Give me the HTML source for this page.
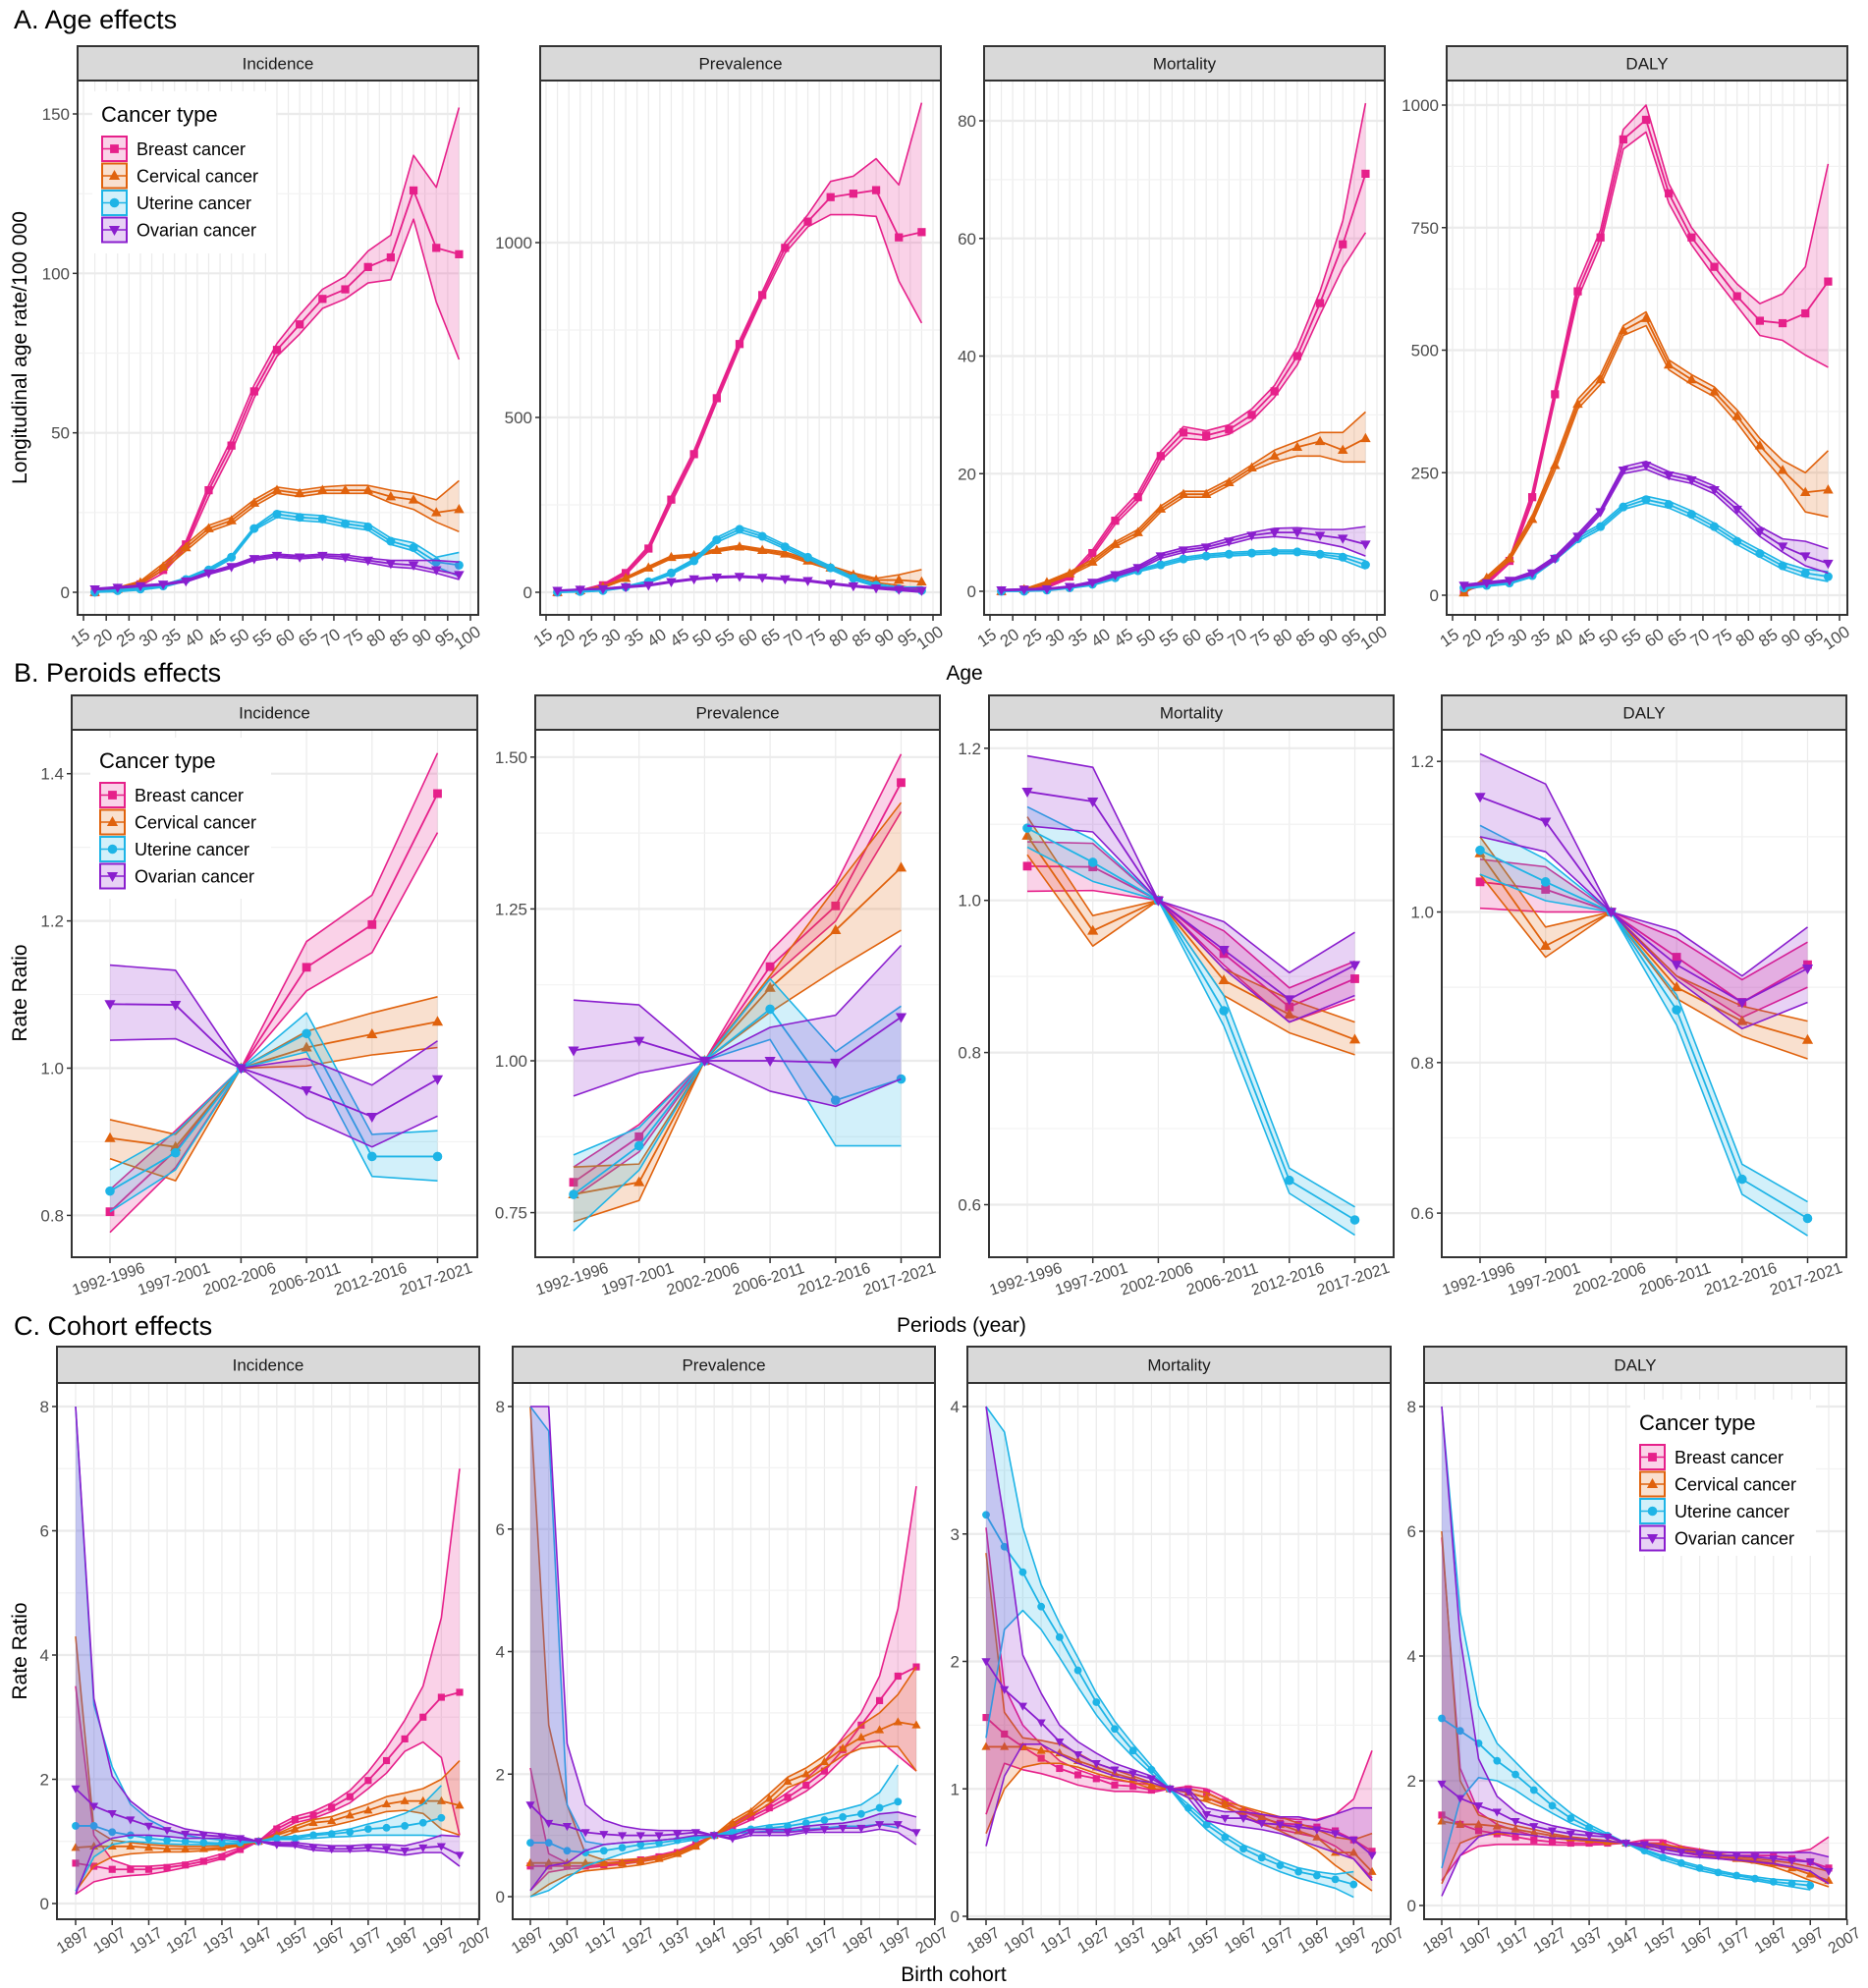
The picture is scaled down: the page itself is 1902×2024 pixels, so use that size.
<!DOCTYPE html>
<html><head><meta charset="utf-8"><style>
html,body{margin:0;padding:0;background:#fff}
svg{display:block;font-family:"Liberation Sans",Arial,sans-serif}
</style></head><body>
<svg id="chart" width="1902" height="2024" viewBox="0 0 1902 2024" xmlns="http://www.w3.org/2000/svg">
<rect x="0" y="0" width="1902" height="2024" fill="#fff"/>
<text x="14" y="29" font-size="27" fill="#000">A. Age effects</text>
<text x="14" y="694" font-size="27" fill="#000">B. Peroids effects</text>
<text x="14" y="1359" font-size="27" fill="#000">C. Cohort effects</text>
<text x="982" y="692" font-size="21" text-anchor="middle">Age</text>
<text x="979" y="1356" font-size="21" text-anchor="middle">Periods (year)</text>
<text x="971" y="2017" font-size="21" text-anchor="middle">Birth cohort</text>
<text transform="translate(27,354) rotate(-90)" font-size="21" text-anchor="middle">Longitudinal age rate/100 000</text>
<text transform="translate(27,1011) rotate(-90)" font-size="21" text-anchor="middle">Rate Ratio</text>
<text transform="translate(27,1681) rotate(-90)" font-size="21" text-anchor="middle">Rate Ratio</text>
</svg>
<script>
// ---------- categories ----------
const ageGroups = [17.5,22.5,27.5,32.5,37.5,42.5,47.5,52.5,57.5,62.5,67.5,72.5,77.5,82.5,87.5,92.5,97.5];
const ageTicks = [15,20,25,30,35,40,45,50,55,60,65,70,75,80,85,90,95,100];
const periods = ["1992-1996","1997-2001","2002-2006","2006-2011","2012-2016","2017-2021"];
const cohorts = [1897,1902,1907,1912,1917,1922,1927,1932,1937,1942,1947,1952,1957,1962,1967,1972,1977,1982,1987,1992,1997,2002];
const cohortTicks = [1897,1907,1917,1927,1937,1947,1957,1967,1977,1987,1997,2007];
const seriesNames = ["Breast cancer","Cervical cancer","Uterine cancer","Ovarian cancer"];

// ---------- A: Age effects ----------
const aIncBreast = {est:[0,1,2.5,7,15,32,46,63,76,84,92,95,102,105,126,108,106], lo:[0,0.5,2,6,14,30,44,61,74,81,89,92,97,98,117,91,73], hi:[0.5,1.5,3,8,16,33.5,48,65,78,87,95,99,107,112,137,127,152]};
const aIncCerv = {est:[0,1,3,8,14,20,22.5,28,32,31,32,32,32,30,29,25,26], lo:[0,0.5,2.5,7,13,19,21.5,27,31,30,31,31,31,28,26,22,19], hi:[0.5,1.5,3.5,9,15,21,23.5,29,33,32,33,33.5,33.5,32,31,29,35]};
const aIncUter = {est:[0,0.5,1,2,4,7,11,20,24.5,23.5,23,21.5,20.5,16,14,9.5,8.5], lo:[0,0.2,0.7,1.6,3.5,6.5,10.5,19.5,23.5,22.5,22,20.5,19.5,15,13,8,5], hi:[0.3,0.8,1.3,2.4,4.5,7.5,11.5,20.5,25.5,24.5,24,22.5,21.5,17,15.5,11,12.5]};
const aIncOvar = {est:[1,1.5,2,2.5,3.5,6,8,10.5,11.5,11,11.5,11,10,9,8.5,7,5.5], lo:[0.8,1.3,1.8,2.3,3.2,5.6,7.6,10,11,10.5,11,10.3,9.3,8,7.5,6,4], hi:[1.2,1.7,2.2,2.7,3.8,6.4,8.4,11,12,11.5,12,11.7,10.7,10,10,10,9.5]};

const aPrevBreast = {est:[0,5,20,55,125,265,395,555,710,850,985,1060,1130,1140,1150,1015,1030], lo:[0,4,17,50,118,255,385,545,700,840,970,1045,1080,1080,1075,890,770], hi:[1,6,23,60,132,275,405,565,720,860,1000,1080,1175,1190,1240,1165,1400]};
const aPrevCerv = {est:[0,5,15,40,70,100,105,120,130,120,110,90,70,50,35,35,30], lo:[0,4,13,37,66,96,101,116,126,116,105,85,65,45,28,20,5], hi:[1,6,17,43,74,104,109,124,134,124,115,95,75,55,40,50,65]};
const aPrevUter = {est:[0,2,5,15,30,55,90,150,180,160,130,100,70,40,20,10,5], lo:[0,1,4,13,27,51,85,143,172,153,124,95,65,36,16,6,0], hi:[1,3,6,17,33,59,95,157,188,167,136,105,75,44,24,15,15]};
const aPrevOvar = {est:[5,8,10,15,20,30,38,43,45,42,38,33,25,18,12,8,5], lo:[4,7,9,13,18,28,36,41,43,40,36,31,23,16,10,5,0], hi:[6,9,11,17,22,32,40,45,47,44,40,35,27,20,15,12,12]};

const aMortBreast = {est:[0,0.3,0.8,2.5,6.5,12,16,23,27,26.5,27.5,30,34,40,49,59,71], lo:[0,0.2,0.6,2.2,6,11.4,15.3,22.2,26,25.7,26.7,29,33,38.5,47,55,61], hi:[0.1,0.4,1,2.8,7,12.6,16.7,23.8,28,27.3,28.3,31,35,41.5,51,63,83]};
const aMortCerv = {est:[0,0.3,1.5,3,5,8,10,14,16.5,16.5,18.5,21,23,24.5,25.5,24,26], lo:[0,0.2,1.3,2.7,4.6,7.6,9.5,13.5,16,16,18,20.5,22,23,23,22,22], hi:[0.1,0.4,1.7,3.3,5.4,8.4,10.5,14.5,17,17,19,21.5,24,25.5,27,27,30.5]};
const aMortUter = {est:[0,0,0.2,0.6,1.2,2.3,3.5,4.5,5.5,6,6.3,6.5,6.7,6.7,6.3,5.8,4.5], lo:[0,0,0.1,0.5,1,2.1,3.3,4.2,5.2,5.7,6,6.2,6.4,6.4,6,5.3,3.8], hi:[0.1,0.1,0.3,0.7,1.4,2.5,3.7,4.8,5.8,6.3,6.6,6.8,7,7,6.6,6.3,5.2]};
const aMortOvar = {est:[0.2,0.3,0.4,0.8,1.5,2.8,4,6,7,7.5,8.5,9.5,10,10,9.5,9,8], lo:[0.1,0.2,0.3,0.7,1.3,2.5,3.7,5.6,6.6,7.1,8,9,9.3,9,8.3,7.5,6], hi:[0.3,0.4,0.5,0.9,1.7,3.1,4.3,6.4,7.4,7.9,9,10,10.7,10.8,10.5,10.5,11]};

const aDalyBreast = {est:[10,25,70,200,410,620,730,930,970,820,730,670,610,560,555,575,640], lo:[8,22,65,190,400,605,715,910,945,800,715,650,590,530,520,490,465], hi:[12,28,75,210,420,635,745,950,1000,840,750,690,635,595,615,670,880]};
const aDalyCerv = {est:[5,35,75,155,265,390,440,540,565,470,440,415,365,305,255,210,215], lo:[4,32,70,148,255,380,430,530,550,460,430,405,352,290,235,170,160], hi:[6,38,80,162,275,400,450,550,578,480,450,425,378,320,275,250,295]};
const aDalyUter = {est:[15,20,25,40,75,115,140,180,195,185,165,140,110,85,60,45,38], lo:[13,18,23,37,71,110,135,175,188,178,158,133,103,78,53,37,28], hi:[17,22,27,43,79,120,145,185,202,192,172,147,117,92,67,53,48]};
const aDalyOvar = {est:[20,25,30,45,75,120,170,255,265,245,235,215,175,130,100,80,65], lo:[18,23,28,42,71,115,165,248,257,238,228,207,165,120,88,60,45], hi:[22,27,32,48,79,125,175,262,273,252,242,223,185,140,115,110,95]};

// ---------- B: Period effects ----------
const bIncBreast = {est:[0.805,0.888,1,1.137,1.195,1.373], lo:[0.777,0.865,1,1.105,1.157,1.32], hi:[0.835,0.915,1,1.172,1.235,1.428]};
const bIncCerv = {est:[0.905,0.893,1,1.028,1.046,1.063], lo:[0.877,0.847,1,1.003,1.018,1.028], hi:[0.93,0.91,1,1.05,1.075,1.097]};
const bIncUter = {est:[0.833,0.885,1,1.047,0.88,0.88], lo:[0.805,0.862,1,1.022,0.853,0.847], hi:[0.862,0.912,1,1.075,0.91,0.915]};
const bIncOvar = {est:[1.087,1.086,1,0.97,0.934,0.985], lo:[1.038,1.04,1,0.933,0.893,0.935], hi:[1.14,1.133,1,1.013,0.977,1.037]};

const bPrevBreast = {est:[0.80,0.875,1,1.155,1.255,1.458], lo:[0.775,0.85,1,1.135,1.23,1.41], hi:[0.825,0.895,1,1.18,1.29,1.505]};
const bPrevCerv = {est:[0.78,0.80,1,1.12,1.215,1.318], lo:[0.735,0.77,1,1.08,1.15,1.215], hi:[0.825,0.83,1,1.14,1.285,1.425]};
const bPrevUter = {est:[0.78,0.86,1,1.085,0.935,0.97], lo:[0.72,0.82,1,1.035,0.86,0.86], hi:[0.845,0.89,1,1.135,1.015,1.09]};
const bPrevOvar = {est:[1.017,1.033,1,1.0,0.997,1.072], lo:[0.942,0.98,1,0.95,0.925,0.97], hi:[1.1,1.092,1,1.055,1.075,1.19]};

const bMortBreast = {est:[1.045,1.044,1,0.93,0.86,0.897], lo:[1.012,1.013,1,0.915,0.84,0.87], hi:[1.077,1.075,1,0.96,0.885,0.92]};
const bMortCerv = {est:[1.085,0.96,1,0.895,0.85,0.817], lo:[1.06,0.94,1,0.875,0.826,0.797], hi:[1.11,0.98,1,0.91,0.87,0.84]};
const bMortUter = {est:[1.095,1.05,1,0.855,0.632,0.58], lo:[1.07,1.025,1,0.835,0.615,0.56], hi:[1.123,1.08,1,0.875,0.648,0.597]};
const bMortOvar = {est:[1.143,1.13,1,0.935,0.87,0.915], lo:[1.098,1.09,1,0.91,0.84,0.875], hi:[1.19,1.175,1,0.972,0.905,0.958]};

const bDalyBreast = {est:[1.04,1.03,1,0.94,0.88,0.93], lo:[1.005,1.0,1,0.915,0.86,0.9], hi:[1.07,1.06,1,0.965,0.91,0.96]};
const bDalyCerv = {est:[1.078,0.955,1,0.9,0.855,0.83], lo:[1.05,0.94,1,0.885,0.835,0.805], hi:[1.1,0.98,1,0.915,0.875,0.855]};
const bDalyUter = {est:[1.082,1.04,1,0.87,0.645,0.593], lo:[1.05,1.015,1,0.85,0.625,0.57], hi:[1.115,1.07,1,0.89,0.665,0.615]};
const bDalyOvar = {est:[1.153,1.12,1,0.93,0.88,0.925], lo:[1.1,1.08,1,0.91,0.845,0.88], hi:[1.21,1.17,1,0.975,0.915,0.98]};

// ---------- C: Cohort effects ----------
const cIncBreast = {est:[0.65,0.6,0.55,0.55,0.55,0.58,0.62,0.68,0.75,0.87,1.0,1.2,1.35,1.42,1.55,1.72,1.98,2.3,2.65,3.0,3.32,3.4], lo:[0.15,0.35,0.42,0.45,0.47,0.52,0.58,0.64,0.72,0.85,1.0,1.15,1.3,1.37,1.48,1.62,1.85,2.1,2.45,2.6,2.35,1.1], hi:[3.5,1.1,0.7,0.6,0.6,0.62,0.66,0.72,0.8,0.9,1.0,1.25,1.4,1.48,1.62,1.82,2.12,2.5,2.95,3.5,4.6,7.0]};
const cIncCerv = {est:[0.9,0.92,0.92,0.92,0.9,0.88,0.88,0.88,0.9,0.95,1.0,1.1,1.2,1.3,1.33,1.42,1.5,1.6,1.65,1.65,1.65,1.58], lo:[0.2,0.6,0.75,0.8,0.82,0.83,0.83,0.85,0.88,0.93,1.0,1.05,1.15,1.2,1.25,1.32,1.4,1.48,1.5,1.45,1.2,1.1], hi:[4.3,1.2,1.02,0.98,0.95,0.93,0.92,0.92,0.93,0.97,1.0,1.12,1.25,1.35,1.4,1.5,1.6,1.72,1.78,1.85,2.0,2.3]};
const cIncUter = {est:[1.25,1.25,1.15,1.1,1.05,1.02,1.0,0.98,0.97,0.98,1.0,1.05,1.05,1.1,1.12,1.15,1.2,1.22,1.25,1.3,1.38], lo:[0.2,0.75,0.95,1.0,0.98,0.96,0.95,0.95,0.95,0.97,1.0,1.03,1.03,1.05,1.07,1.08,1.1,1.1,1.1,1.1,1.08], hi:[8.0,3.2,2.2,1.6,1.35,1.2,1.1,1.05,1.02,1.0,1.0,1.07,1.08,1.12,1.15,1.2,1.28,1.35,1.45,1.6,1.9]};
const cIncOvar = {est:[1.85,1.57,1.45,1.35,1.25,1.18,1.12,1.1,1.08,1.05,1.0,0.95,0.95,0.9,0.88,0.88,0.9,0.88,0.85,0.9,0.92,0.78], lo:[0.15,0.9,1.05,1.1,1.1,1.08,1.05,1.05,1.05,1.03,1.0,0.93,0.92,0.86,0.84,0.84,0.85,0.82,0.78,0.82,0.82,0.6], hi:[8.0,3.3,2.05,1.65,1.42,1.3,1.2,1.15,1.12,1.08,1.0,0.98,0.98,0.95,0.93,0.93,0.95,0.95,0.93,1.0,1.1,1.08]};

const cPrevBreast = {est:[0.5,0.5,0.5,0.5,0.52,0.55,0.6,0.65,0.72,0.85,1.0,1.15,1.3,1.45,1.62,1.82,2.05,2.4,2.8,3.2,3.6,3.75], lo:[0.1,0.4,0.45,0.47,0.5,0.53,0.57,0.62,0.7,0.83,1.0,1.12,1.25,1.4,1.55,1.72,1.95,2.25,2.5,2.55,2.3,2.05], hi:[2.1,0.7,0.55,0.55,0.55,0.57,0.62,0.68,0.75,0.88,1.0,1.18,1.35,1.5,1.7,1.92,2.2,2.6,3.0,3.6,4.7,6.7]};
const cPrevCerv = {est:[0.55,0.55,0.55,0.55,0.55,0.55,0.58,0.62,0.7,0.82,1.0,1.2,1.38,1.6,1.88,2.0,2.2,2.42,2.6,2.72,2.85,2.8], lo:[0.0,0.2,0.35,0.42,0.45,0.48,0.52,0.58,0.67,0.8,1.0,1.15,1.32,1.52,1.78,1.9,2.1,2.3,2.42,2.45,2.45,2.05], hi:[8.0,2.8,1.5,0.7,0.6,0.6,0.62,0.66,0.72,0.85,1.0,1.25,1.42,1.68,1.95,2.1,2.3,2.55,2.8,3.0,3.3,3.75]};
const cPrevUter = {est:[0.88,0.88,0.75,0.72,0.75,0.8,0.85,0.88,0.92,0.95,1.0,1.05,1.1,1.12,1.15,1.2,1.25,1.3,1.35,1.45,1.55], lo:[0.0,0.1,0.3,0.5,0.6,0.7,0.78,0.82,0.88,0.93,1.0,1.03,1.05,1.07,1.08,1.1,1.12,1.15,1.15,1.18,1.12], hi:[8.0,7.6,1.5,0.9,0.85,0.88,0.9,0.92,0.95,0.97,1.0,1.08,1.12,1.17,1.2,1.28,1.35,1.42,1.5,1.7,2.15]};
const cPrevOvar = {est:[1.5,1.2,1.15,1.05,1.02,1.0,1.0,1.0,1.02,1.05,1.0,0.95,1.05,1.05,1.05,1.08,1.1,1.12,1.12,1.18,1.18,1.05], lo:[0.1,0.5,0.55,0.75,0.85,0.88,0.9,0.92,0.95,1.0,1.0,0.93,1.0,1.0,1.0,1.05,1.05,1.05,1.05,1.1,1.05,0.85], hi:[8.0,8.0,2.5,1.5,1.25,1.15,1.1,1.08,1.08,1.08,1.0,1.0,1.1,1.1,1.1,1.15,1.18,1.2,1.25,1.35,1.38,1.3]};

const cMortBreast = {est:[1.56,1.43,1.33,1.24,1.16,1.11,1.08,1.03,1.02,0.99,1.0,1.0,0.97,0.9,0.82,0.77,0.73,0.72,0.7,0.67,0.6,0.51], lo:[0.8,1.2,1.15,1.12,1.08,1.03,1.0,0.98,0.98,0.97,1.0,0.97,0.93,0.87,0.78,0.72,0.68,0.65,0.62,0.55,0.45,0.3], hi:[3.05,1.8,1.5,1.35,1.22,1.15,1.1,1.07,1.05,1.03,1.0,1.02,1.0,0.93,0.85,0.8,0.77,0.76,0.76,0.8,0.92,1.3]};
const cMortCerv = {est:[1.33,1.33,1.33,1.3,1.28,1.22,1.17,1.12,1.08,1.03,1.0,0.97,0.93,0.88,0.83,0.78,0.72,0.67,0.62,0.5,0.5,0.35], lo:[0.65,1.0,1.17,1.2,1.2,1.17,1.12,1.08,1.05,1.0,1.0,0.93,0.9,0.85,0.8,0.73,0.67,0.6,0.52,0.4,0.3,0.2], hi:[2.85,1.6,1.4,1.38,1.35,1.28,1.2,1.15,1.1,1.05,1.0,1.0,0.97,0.9,0.86,0.82,0.78,0.73,0.68,0.62,0.6,0.65]};
const cMortUter = {est:[3.15,2.9,2.7,2.43,2.19,1.93,1.68,1.47,1.3,1.15,1.0,0.85,0.72,0.62,0.53,0.46,0.4,0.35,0.32,0.29,0.25], lo:[1.4,2.25,2.4,2.25,2.03,1.8,1.58,1.4,1.25,1.12,1.0,0.82,0.68,0.57,0.48,0.41,0.35,0.3,0.26,0.22,0.15], hi:[4.0,3.8,3.05,2.6,2.3,2.03,1.75,1.53,1.35,1.18,1.0,0.88,0.75,0.65,0.56,0.5,0.43,0.38,0.35,0.33,0.35]};
const cMortOvar = {est:[2.0,1.78,1.65,1.52,1.37,1.27,1.2,1.15,1.12,1.08,1.0,0.98,0.8,0.77,0.77,0.73,0.72,0.7,0.68,0.65,0.6,0.48], lo:[0.55,1.1,1.35,1.35,1.27,1.2,1.15,1.1,1.07,1.05,1.0,0.93,0.75,0.72,0.7,0.68,0.65,0.6,0.55,0.5,0.45,0.28], hi:[4.0,3.1,2.05,1.75,1.5,1.37,1.28,1.2,1.15,1.1,1.0,1.0,0.85,0.82,0.82,0.8,0.78,0.78,0.75,0.8,0.85,0.85]};

const cDalyBreast = {est:[1.45,1.3,1.2,1.15,1.1,1.05,1.02,1.0,1.0,1.0,1.0,1.0,1.0,0.9,0.85,0.8,0.8,0.8,0.8,0.75,0.7,0.6], lo:[0.4,0.8,0.95,0.98,0.98,0.98,0.97,0.97,0.97,0.98,1.0,0.97,0.95,0.85,0.8,0.75,0.72,0.7,0.65,0.6,0.5,0.35], hi:[5.9,2.2,1.5,1.3,1.2,1.12,1.08,1.05,1.03,1.02,1.0,1.05,1.05,0.95,0.9,0.85,0.85,0.85,0.85,0.85,0.9,1.1]};
const cDalyCerv = {est:[1.35,1.3,1.3,1.27,1.22,1.17,1.12,1.08,1.05,1.02,1.0,0.97,0.95,0.9,0.85,0.8,0.75,0.72,0.68,0.6,0.5,0.4], lo:[0.35,1.0,1.12,1.15,1.15,1.12,1.08,1.05,1.03,1.0,1.0,0.95,0.92,0.87,0.82,0.77,0.72,0.68,0.62,0.52,0.4,0.3], hi:[6.0,2.0,1.45,1.35,1.28,1.22,1.15,1.1,1.07,1.04,1.0,1.0,0.98,0.93,0.88,0.83,0.78,0.75,0.72,0.68,0.62,0.55]};
const cDalyUter = {est:[3.0,2.8,2.6,2.32,2.1,1.85,1.6,1.4,1.25,1.12,1.0,0.88,0.77,0.68,0.6,0.53,0.48,0.43,0.38,0.35,0.32], lo:[0.6,1.7,2.05,2.0,1.85,1.65,1.48,1.32,1.2,1.1,1.0,0.85,0.73,0.64,0.56,0.5,0.44,0.4,0.35,0.3,0.25], hi:[8.0,4.7,3.2,2.6,2.3,2.0,1.72,1.48,1.3,1.15,1.0,0.9,0.8,0.71,0.63,0.56,0.5,0.46,0.42,0.4,0.38]};
const cDalyOvar = {est:[1.95,1.72,1.6,1.5,1.35,1.27,1.2,1.15,1.12,1.1,1.0,0.98,0.9,0.85,0.82,0.8,0.8,0.78,0.75,0.72,0.7,0.55], lo:[0.15,0.8,1.1,1.18,1.15,1.12,1.08,1.07,1.05,1.03,1.0,0.93,0.85,0.8,0.77,0.75,0.73,0.7,0.67,0.62,0.55,0.35], hi:[8.0,4.3,2.35,1.75,1.5,1.37,1.28,1.22,1.17,1.13,1.0,1.0,0.95,0.9,0.88,0.86,0.85,0.85,0.85,0.85,0.85,0.78]};

// ---------- tick values ----------
const aIncTicks=[0,50,100,150], aPrevTicks=[0,500,1000], aMortTicks=[0,20,40,60,80], aDalyTicks=[0,250,500,750,1000];
const bIncTicks=[0.8,1.0,1.2,1.4], bPrevTicks=[0.75,1.00,1.25,1.50], bMortTicks=[0.6,0.8,1.0,1.2], bDalyTicks=[0.6,0.8,1.0,1.2];
const cIncTicks=[0,2,4,6,8], cPrevTicks=[0,2,4,6,8], cMortTicks=[0,1,2,3,4], cDalyTicks=[0,2,4,6,8];

// ---------- rendering ----------
const NS="http://www.w3.org/2000/svg";
const svg=document.getElementById('chart');
const COLORS=['#E6208A','#E0620D','#1EB4E6','#8A1ECE'];
const SHAPES=['square','tri-up','circle','tri-down'];
function mk(tag,parent,attrs){const e=document.createElementNS(NS,tag);for(const k in attrs)e.setAttribute(k,attrs[k]);parent.appendChild(e);return e;}
function lin(v0,p0,v1,p1){return v=>p0+(v-v0)*(p1-p0)/(v1-v0);}

function marker(g,shape,x,y,color,s){
  let m;
  if(shape==='square') m=mk('rect',g,{x:x-s*0.55,y:y-s*0.55,width:s*1.1,height:s*1.1,fill:color});
  else if(shape==='circle') m=mk('circle',g,{cx:x,cy:y,r:s*0.6,fill:color});
  else if(shape==='tri-up') m=mk('polygon',g,{points:`${x},${y-s*0.75} ${x-s*0.7},${y+s*0.5} ${x+s*0.7},${y+s*0.5}`,fill:color});
  else m=mk('polygon',g,{points:`${x},${y+s*0.75} ${x-s*0.7},${y-s*0.5} ${x+s*0.7},${y-s*0.5}`,fill:color});
  return m;
}

function drawPanel(p){
  const g=mk('g',svg,{});
  
  
  const W=p.right-p.left,H=p.bottom-p.top;
  mk('rect',g,{x:p.left,y:p.top,width:W,height:H,fill:'#fff'});
  const grid=mk('g',g,{});
  
  
  p.xGrid.forEach(v=>{const x=p.xs(v);mk('line',grid,{x1:x,x2:x,y1:p.top,y2:p.bottom,stroke:'#ebebeb','stroke-width':1.2});});
  for(let i=0;i<p.yTicks.length;i++){
    const y=p.ys(p.yTicks[i]);
    mk('line',grid,{x1:p.left,x2:p.right,y1:y,y2:y,stroke:'#ebebeb','stroke-width':2.2});
    if(i<p.yTicks.length-1){const ym=p.ys((p.yTicks[i]+p.yTicks[i+1])/2);mk('line',grid,{x1:p.left,x2:p.right,y1:ym,y2:ym,stroke:'#f2f2f2','stroke-width':1.2});}
  }
  const cid='clip-'+p.name;
  const cp=mk('clipPath',g,{id:cid});mk('rect',cp,{x:p.left,y:p.top,width:W,height:H});
  const data=mk('g',g,{'clip-path':`url(#${cid})`});
  p.series.forEach((s,si)=>{
    const sg=mk('g',data,{});
    
    
    const n=s.est.length;
    const hiPts=[],loPts=[],estPts=[];
    for(let i=0;i<n;i++){const x=p.xs(p.xvals[i]);hiPts.push([x,p.ys(s.hi[i])]);loPts.push([x,p.ys(s.lo[i])]);estPts.push([x,p.ys(s.est[i])]);}
    const poly=hiPts.concat(loPts.slice().reverse()).map(q=>q.join(',')).join(' ');
    const band=mk('polygon',sg,{points:poly,fill:COLORS[si],'fill-opacity':0.2,stroke:'none'});
    
    
    [loPts,hiPts,estPts].forEach((pts,k)=>{
      const ln=mk('polyline',sg,{points:pts.map(q=>q.join(',')).join(' '),fill:'none',stroke:COLORS[si],'stroke-width':k===2?1.8:1.6,'stroke-linejoin':'round'});
      
      
    });
    estPts.forEach(q=>{
      const m=marker(sg,SHAPES[si],q[0],q[1],COLORS[si],p.ms||8);
      
      
    });
  });
  mk('rect',g,{x:p.left,y:p.top,width:W,height:H,fill:'none',stroke:'#333','stroke-width':2});
  const st=mk('g',g,{});
  
  
  mk('rect',st,{x:p.left,y:p.stripTop,width:W,height:p.top-p.stripTop,fill:'#d9d9d9',stroke:'#333','stroke-width':2});
  const stt=mk('text',st,{x:p.left+W/2,y:(p.stripTop+p.top)/2+6,'font-size':17,'text-anchor':'middle',fill:'#1a1a1a'});
  stt.textContent=p.title;
  const ya=mk('g',g,{});
  
  
  p.yTicks.forEach(v=>{const y=p.ys(v);
    mk('line',ya,{x1:p.left-5,x2:p.left,y1:y,y2:y,stroke:'#333','stroke-width':1.5});
    const t=mk('text',ya,{x:p.left-8,y:y+6,'font-size':17,'text-anchor':'end',fill:'#4d4d4d'});
    t.textContent=p.yFmt?p.yFmt(v):String(v);
  });
  const xa=mk('g',g,{});
  
  
  p.xTicks.forEach((v,i)=>{const x=p.xs(v);
    mk('line',xa,{x1:x,x2:x,y1:p.bottom,y2:p.bottom+6,stroke:'#333','stroke-width':1.5});
    const ly=p.bottom+p.labOff;
    const t=mk('text',xa,{x:0,y:0,'font-size':p.xfs||16,'text-anchor':'middle',fill:'#4d4d4d',transform:`translate(${x},${ly}) rotate(${-p.rot})`});
    t.textContent=p.xLabels?p.xLabels[i]:String(v);
  });
}

function legend(x,y,w,h,name){
  const g=mk('g',svg,{});
  
  
  mk('rect',g,{x:x,y:y,width:w,height:h,fill:'#fff'});
  const t=mk('text',g,{x:x+9,y:y+31,'font-size':22,fill:'#000'});t.textContent='Cancer type';
  for(let i=0;i<4;i++){
    const ky=y+46+i*27.5;
    const e=mk('g',g,{});
    
    
    mk('rect',e,{x:x+10,y:ky,width:25,height:25,fill:COLORS[i],'fill-opacity':0.2,stroke:COLORS[i],'stroke-width':2});
    mk('line',e,{x1:x+10,x2:x+35,y1:ky+12.5,y2:ky+12.5,stroke:COLORS[i],'stroke-width':1.5});
    marker(e,SHAPES[i],x+22.5,ky+12.5,COLORS[i],8);
    const lt=mk('text',e,{x:x+45,y:ky+19,'font-size':18,fill:'#000'});lt.textContent=seriesNames[i];
  }
}

const ageGrid=[];for(let a=15;a<=100;a+=2.5)ageGrid.push(a);
const rowA=[
 {title:'Incidence',left:79,ys:lin(0,603,150,116),yTicks:aIncTicks,series:[aIncBreast,aIncCerv,aIncUter,aIncOvar]},
 {title:'Prevalence',left:550,ys:lin(0,603,1000,247),yTicks:aPrevTicks,series:[aPrevBreast,aPrevCerv,aPrevUter,aPrevOvar]},
 {title:'Mortality',left:1002,ys:lin(0,602,80,123),yTicks:aMortTicks,series:[aMortBreast,aMortCerv,aMortUter,aMortOvar]},
 {title:'DALY',left:1473,ys:lin(0,606,1000,107),yTicks:aDalyTicks,series:[aDalyBreast,aDalyCerv,aDalyUter,aDalyOvar]}];
rowA.forEach(c=>{const L=c.left;drawPanel({name:'age-'+c.title.toLowerCase()+'-panel',title:c.title,left:L,right:L+408,top:82,bottom:626,stripTop:47,
  xs:lin(15,L+6,100,L+400),ys:c.ys,yTicks:c.yTicks,xGrid:ageGrid,xTicks:ageTicks,xvals:ageGroups,rot:35,labOff:28,xfs:17,series:c.series,ms:7.5});});

const periodIdx=[0,1,2,3,4,5];
const rowB=[
 {title:'Incidence',left:73,right:486,ys:lin(1,1087.5,1.2,937.6),yTicks:bIncTicks,fmt:v=>v.toFixed(1),series:[bIncBreast,bIncCerv,bIncUter,bIncOvar]},
 {title:'Prevalence',left:545,right:957,ys:lin(1,1080,1.25,925.4),yTicks:bPrevTicks,fmt:v=>v.toFixed(2),series:[bPrevBreast,bPrevCerv,bPrevUter,bPrevOvar]},
 {title:'Mortality',left:1007,right:1419,ys:lin(1,916.7,1.2,761.8),yTicks:bMortTicks,fmt:v=>v.toFixed(1),series:[bMortBreast,bMortCerv,bMortUter,bMortOvar]},
 {title:'DALY',left:1468,right:1880,ys:lin(1,928.5,1.2,775.2),yTicks:bDalyTicks,fmt:v=>v.toFixed(1),series:[bDalyBreast,bDalyCerv,bDalyUter,bDalyOvar]}];
rowB.forEach(c=>{const L=c.left;drawPanel({name:'period-'+c.title.toLowerCase()+'-panel',title:c.title,left:L,right:c.right,top:743,bottom:1280,stripTop:708,
  xs:lin(0,L+39,5,L+39+333.5),ys:c.ys,yTicks:c.yTicks,yFmt:c.fmt,xGrid:periodIdx,xTicks:periodIdx,xLabels:periods,xvals:periodIdx,rot:18,labOff:27,xfs:16,series:c.series,ms:8});});

const cohortGrid=[];for(let y=1897;y<=2007;y+=5)cohortGrid.push(y);
const rowC=[
 {title:'Incidence',left:58,right:488,x0:77,x1:468,ys:lin(0,1938,8,1432),yTicks:cIncTicks,series:[cIncBreast,cIncCerv,cIncUter,cIncOvar]},
 {title:'Prevalence',left:522,right:952,x0:540,x1:933,ys:lin(0,1931,8,1432),yTicks:cPrevTicks,series:[cPrevBreast,cPrevCerv,cPrevUter,cPrevOvar]},
 {title:'Mortality',left:985,right:1416,x0:1004,x1:1397,ys:lin(0,1951,4,1432),yTicks:cMortTicks,series:[cMortBreast,cMortCerv,cMortUter,cMortOvar]},
 {title:'DALY',left:1450,right:1880,x0:1468,x1:1862,ys:lin(0,1940,8,1432),yTicks:cDalyTicks,series:[cDalyBreast,cDalyCerv,cDalyUter,cDalyOvar]}];
rowC.forEach(c=>{drawPanel({name:'cohort-'+c.title.toLowerCase()+'-panel',title:c.title,left:c.left,right:c.right,top:1408,bottom:1954,stripTop:1371,
  xs:lin(1897,c.x0,2002,c.x1),ys:c.ys,yTicks:c.yTicks,xGrid:cohortGrid,xTicks:cohortTicks,xvals:cohorts,rot:32,labOff:26,xfs:16,series:c.series,ms:6.5});});

legend(94,93,187,165,'legend-age');
legend(92,751,184,164,'legend-period');
legend(1660,1425,189,159,'legend-cohort');
</script>
</body></html>
